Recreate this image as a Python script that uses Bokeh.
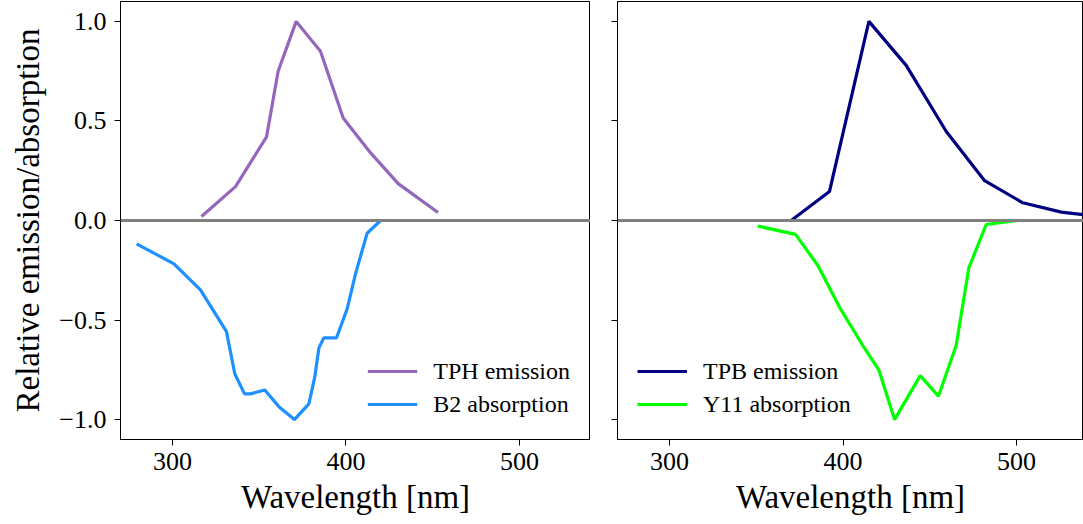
from bokeh.plotting import figure
from bokeh.layouts import row
from bokeh.models import Range1d, FixedTicker, CustomJSTickFormatter, Span
from bokeh.embed import file_html
from bokeh.resources import INLINE

# ---- data ----
tph_wl = [316.7, 336.3, 354.2, 360.9, 371.3, 385.3, 398.4, 413.2, 430.1, 453.1]
tph_val = [0.02, 0.17, 0.42, 0.75, 1.0, 0.85, 0.515, 0.35, 0.185, 0.04]

b2_wl = [279.3, 300.8, 316.1, 331.1, 335.9, 341.5, 345.0, 353.2, 361.3, 370.3,
         378.6, 382.0, 384.4, 387.2, 394.5, 400.7, 405.5, 412.2, 420.0]
b2_val = [-0.117, -0.218, -0.348, -0.558, -0.77, -0.871, -0.871, -0.851, -0.935, -1.0,
          -0.921, -0.787, -0.64, -0.59, -0.59, -0.444, -0.268, -0.064, 0.0]

tpb_wl = [370.1, 392.2, 414.9, 436.4, 459.5, 481.6, 503.6, 525.8, 548.0]
tpb_val = [0.0, 0.146, 1.0, 0.779, 0.447, 0.2, 0.089, 0.042, 0.02]

y11_wl = [350.9, 372.6, 385.5, 398.0, 411.4, 420.6, 429.7, 444.5, 455.0, 465.2,
          472.5, 482.5, 500.7]
y11_val = [-0.028, -0.07, -0.226, -0.436, -0.628, -0.75, -1.0, -0.779, -0.883, -0.628,
           -0.238, -0.02, 0.0]

x_ticks = [300, 400, 500]
y_ticks = [-1.0, -0.5, 0.0, 0.5, 1.0]
x_label = "Wavelength [nm]"
y_label = "Relative emission/absorption"

FONT = "Liberation Serif"
FRAME_H = 438
LW = 3.2


def make_fig(frame_w, x_end, border_left, show_ylab):
    p = figure(frame_width=frame_w, frame_height=FRAME_H,
               x_range=Range1d(270, x_end), y_range=Range1d(-1.1, 1.1),
               output_backend="svg", toolbar_location=None,
               min_border_left=border_left, min_border_right=0,
               min_border_top=1, min_border_bottom=0)
    p.grid.visible = False
    p.outline_line_color = "black"
    p.outline_line_width = 1
    p.background_fill_color = "white"
    p.border_fill_color = "white"

    p.xaxis.ticker = FixedTicker(ticks=x_ticks)
    p.yaxis.ticker = FixedTicker(ticks=y_ticks)
    for ax in (p.xaxis[0], p.yaxis[0]):
        ax.major_tick_out = 6
        ax.major_tick_in = 0
        ax.minor_tick_out = 0
        ax.minor_tick_in = 0
        ax.axis_line_color = "black"
        ax.major_tick_line_color = "black"
        ax.major_label_text_font = FONT
        ax.major_label_text_font_size = "26px"
        ax.major_label_text_color = "black"
        ax.axis_label_text_font = FONT
        ax.axis_label_text_font_size = "33px"
        ax.axis_label_text_font_style = "normal"
        ax.axis_label_text_color = "black"
    p.xaxis.major_label_standoff = 7
    p.xaxis.axis_label_standoff = 6
    p.xaxis.axis_label = x_label
    p.yaxis.formatter = CustomJSTickFormatter(
        code="return tick.toFixed(1).replace('-', '\\u2212');")
    if show_ylab:
        p.yaxis.axis_label = y_label
        p.yaxis.major_label_standoff = 8
        p.yaxis.axis_label_standoff = 10
    else:
        p.yaxis.major_label_text_font_size = "0px"
        p.yaxis.major_label_text_alpha = 0
    return p


p1 = make_fig(470, 541.0, 120, True)
p2 = make_fig(466, 538.6, 27, False)

p1.line(tph_wl, tph_val, line_color="#9467bd", line_width=LW, legend_label="TPH emission")
p1.line(b2_wl, b2_val, line_color="#1e90ff", line_width=LW, legend_label="B2 absorption")
p2.line(tpb_wl, tpb_val, line_color="#000080", line_width=LW, legend_label="TPB emission")
p2.line(y11_wl, y11_val, line_color="#00ff00", line_width=LW, legend_label="Y11 absorption")

for p, loc in ((p1, "bottom_right"), (p2, "bottom_left")):
    p.add_layout(Span(location=0, dimension="width", line_color="#808080", line_width=LW))
    lg = p.legend[0]
    lg.location = loc
    lg.border_line_color = None
    lg.background_fill_alpha = 0
    lg.label_text_font = FONT
    lg.label_text_font_size = "24px"
    lg.label_text_color = "black"
    lg.glyph_width = 50
    lg.glyph_height = 30
    lg.label_height = 30
    lg.label_standoff = 16
    lg.spacing = 3
    lg.padding = 10
    lg.margin = 20

layout = row(p1, p2)
open("out.html", "w").write(file_html(layout, INLINE))
